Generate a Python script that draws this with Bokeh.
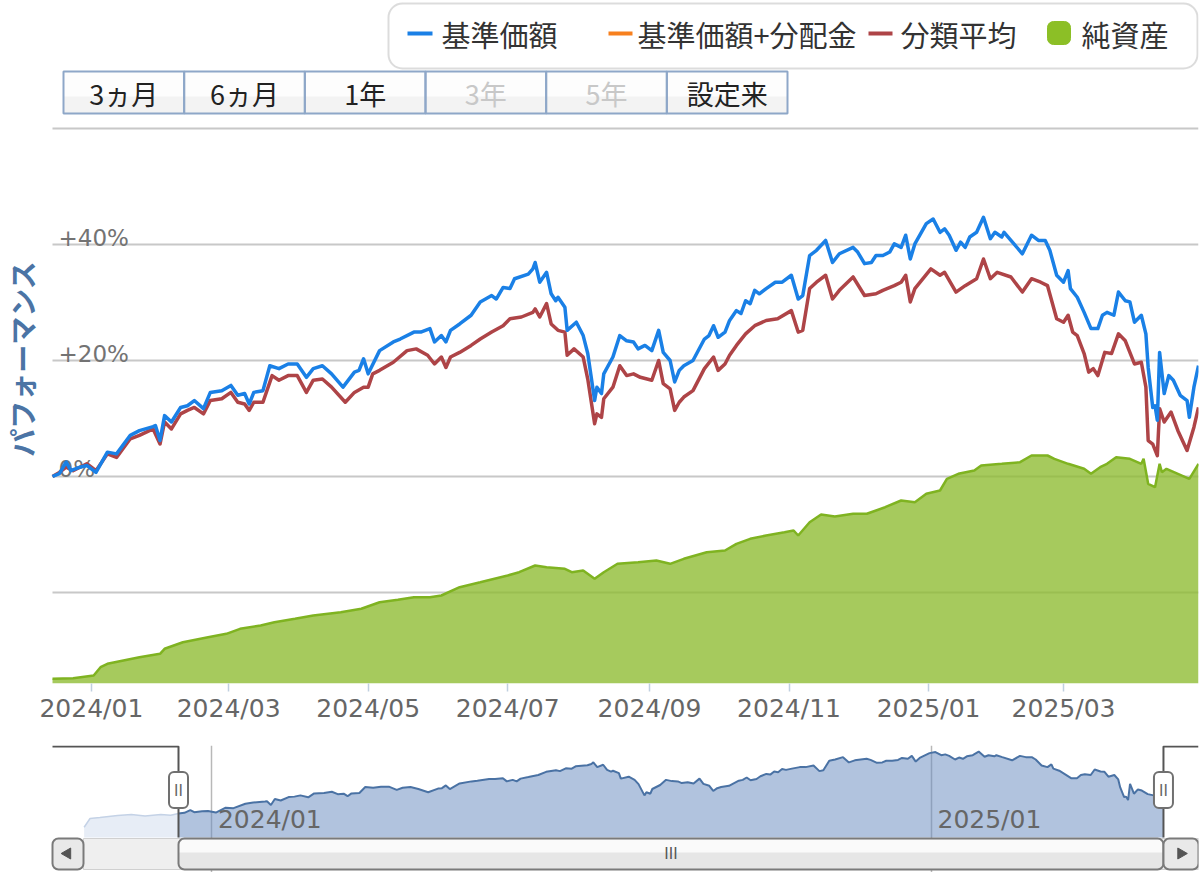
import numpy as np
import pandas as pd
from bokeh.plotting import figure
from bokeh.layouts import column
from bokeh.models import (Range1d, DatetimeAxis, FixedTicker, DatetimeTickFormatter,
                          Grid, BoxAnnotation, Rect, Quad)
from bokeh.core.properties import value
from bokeh.embed import file_html
from bokeh.resources import INLINE

# ---------------- data ----------------
START = "2023-12-15"   # first day of the displayed window (設定来 selection)
END = "2025-04-29"     # last day of the displayed window
BASE = pd.Timestamp(START)

# 基準価額 performance (%), days counted from START
blue_day = [0, 3, 6, 8, 12, 15, 19, 24, 28, 34,
            38, 44, 45, 47, 49, 52, 56, 59, 62, 66,
            69, 74, 78, 81, 84, 86, 88, 92, 95, 99,
            103, 107, 111, 114, 118, 122, 127, 132, 134, 136,
            138, 143, 149, 152, 158, 161, 165, 167, 170, 172,
            174, 178, 183, 187, 192, 194, 197, 200, 202, 208,
            210, 211, 213, 216, 218, 220, 221, 224, 225, 229,
            232, 234, 237, 238, 240, 241, 245, 248, 251, 254,
            256, 259, 262, 265, 267, 270, 272, 274, 276, 280,
            285, 287, 289, 291, 294, 296, 299, 301, 303, 305,
            307, 309, 312, 316, 319, 323, 326, 328, 331, 334,
            338, 341, 344, 350, 352, 355, 358, 360, 363, 366,
            368, 371, 373, 375, 377, 382, 385, 388, 390, 392,
            395, 397, 399, 401, 404, 407, 410, 412, 415, 416,
            419, 424, 428, 431, 434, 436, 439, 442, 444, 445,
            448, 451, 454, 457, 459, 461, 464, 466, 469, 471,
            473, 476, 478, 479, 481, 482, 483, 484, 486, 488,
            490, 493, 496, 497, 499, 501]
blue_pct = [0.0, 0.5, 2.5, 1.0, 1.6, 1.9, 0.7, 4.2, 3.9, 7.1,
            7.9, 8.6, 8.8, 6.2, 10.5, 9.4, 11.9, 12.2, 13.1, 11.7,
            14.5, 14.8, 15.7, 14.0, 14.3, 12.5, 14.5, 14.8, 19.1, 18.6,
            19.4, 19.4, 17.1, 18.6, 19.1, 17.7, 15.4, 18.0, 18.3, 20.3,
            17.7, 21.7, 23.2, 23.7, 24.9, 24.9, 25.5, 23.2, 24.3, 23.2,
            25.2, 26.3, 27.8, 30.1, 31.2, 30.6, 32.6, 32.4, 34.1, 34.9,
            35.8, 36.9, 33.5, 35.2, 31.5, 30.3, 30.9, 29.2, 25.2, 26.6,
            24.3, 21.2, 13.1, 15.4, 14.3, 17.7, 20.6, 24.3, 23.4, 23.2,
            22.0, 22.6, 21.7, 25.2, 21.4, 20.0, 16.3, 18.3, 19.1, 20.0,
            23.7, 24.3, 26.0, 24.0, 24.9, 26.9, 28.6, 28.1, 30.3, 29.8,
            32.1, 31.5, 32.4, 33.5, 33.5, 34.7, 30.6, 31.2, 38.1, 39.0,
            40.7, 36.9, 38.4, 39.5, 38.7, 36.7, 36.9, 38.1, 38.1, 38.7,
            40.1, 39.5, 41.6, 37.5, 40.1, 43.6, 44.4, 42.1, 42.7, 41.6,
            39.0, 40.4, 39.5, 41.3, 42.1, 44.7, 41.0, 42.1, 41.3, 42.1,
            40.7, 38.4, 41.6, 40.7, 40.7, 39.0, 34.7, 33.5, 35.5, 32.4,
            30.9, 28.3, 25.5, 25.5, 27.8, 28.3, 27.8, 31.8, 30.3, 30.1,
            26.6, 27.8, 24.6, 18.8, 11.9, 12.2, 9.7, 21.4, 14.3, 17.4,
            16.6, 14.0, 13.1, 10.2, 15.4, 19.1]

# 分類平均 performance (%)
red_day = [0, 3, 6, 9, 15, 19, 24, 28, 34, 38,
           44, 47, 49, 52, 56, 59, 62, 66, 69, 74,
           78, 81, 84, 86, 88, 92, 96, 99, 103, 107,
           111, 114, 118, 122, 128, 132, 136, 138, 140, 143,
           149, 155, 159, 164, 167, 170, 172, 174, 178, 183,
           187, 192, 197, 200, 205, 210, 211, 213, 216, 218,
           221, 224, 225, 228, 232, 234, 237, 238, 240, 241,
           245, 248, 251, 254, 257, 262, 265, 267, 270, 272,
           274, 276, 280, 285, 289, 291, 294, 296, 299, 303,
           307, 312, 317, 323, 326, 328, 331, 334, 338, 341,
           344, 350, 355, 360, 363, 368, 371, 373, 375, 377,
           384, 388, 390, 395, 399, 404, 407, 410, 413, 419,
           424, 428, 432, 435, 439, 442, 444, 446, 448, 451,
           453, 455, 457, 460, 463, 466, 469, 473, 476, 478,
           479, 481, 483, 484, 486, 489, 492, 496, 499, 501]
red_pct = [0.0, 0.7, 1.6, 1.0, 2.2, 1.0, 3.9, 3.3, 6.5, 7.1,
           8.2, 5.6, 9.4, 8.2, 10.8, 11.4, 11.9, 10.8, 13.1, 13.4,
           14.5, 12.8, 12.5, 11.4, 12.8, 12.8, 17.4, 16.6, 17.4, 17.4,
           14.5, 16.6, 16.8, 15.4, 12.8, 14.5, 15.4, 15.4, 17.7, 18.3,
           19.7, 21.7, 22.0, 20.9, 19.4, 20.6, 18.8, 20.6, 21.4, 22.6,
           23.7, 24.9, 26.0, 27.2, 27.5, 28.3, 28.9, 27.5, 29.8, 26.3,
           25.2, 24.9, 20.9, 22.0, 20.6, 16.8, 9.1, 10.8, 10.2, 13.4,
           15.4, 19.1, 17.4, 17.7, 17.1, 16.6, 20.0, 16.0, 15.1, 11.4,
           12.8, 13.7, 14.8, 18.6, 20.6, 18.3, 19.4, 20.9, 22.6, 24.6,
           26.0, 26.9, 27.2, 28.6, 24.9, 25.2, 32.4, 33.5, 34.7, 30.6,
           32.1, 34.4, 31.2, 31.5, 32.1, 32.9, 33.5, 34.7, 30.1, 32.4,
           35.8, 34.7, 35.2, 31.8, 32.9, 34.1, 37.5, 34.1, 35.2, 34.4,
           31.8, 34.1, 33.5, 32.9, 27.2, 26.6, 27.8, 24.9, 24.3, 21.2,
           18.0, 18.6, 17.4, 21.4, 21.2, 24.6, 23.4, 19.4, 19.7, 15.4,
           6.2, 5.6, 3.6, 11.7, 9.4, 11.1, 7.9, 4.5, 8.5, 11.9]

# 純資産 (億円, secondary axis)
asset_day = [0, 9, 18, 21, 24, 31, 38, 47, 49, 57,
             68, 76, 82, 91, 97, 106, 114, 126, 135, 139,
             143, 151, 158, 165, 170, 178, 187, 199, 204, 211,
             216, 224, 227, 232, 237, 241, 247, 256, 264, 270,
             276, 286, 294, 299, 305, 312, 320, 324, 326, 331,
             336, 342, 350, 356, 364, 371, 377, 382, 388, 391,
             396, 403, 406, 415, 423, 428, 435, 438, 444, 451,
             454, 458, 461, 465, 471, 476, 477, 479, 482, 484,
             485, 487, 492, 497, 501]
asset_oku = [47, 53, 80, 163, 197, 230, 263, 297, 347, 413,
             463, 497, 547, 580, 613, 647, 680, 713, 747, 780,
             813, 837, 863, 863, 880, 963, 1013, 1080, 1113, 1180,
             1163, 1147, 1113, 1130, 1047, 1113, 1197, 1213, 1230, 1197,
             1247, 1313, 1330, 1397, 1447, 1480, 1513, 1530, 1480, 1613,
             1690, 1670, 1697, 1697, 1763, 1830, 1813, 1897, 1930, 2047,
             2097, 2130, 2180, 2197, 2213, 2280, 2280, 2247, 2197, 2147,
             2097, 2163, 2197, 2263, 2247, 2197, 2247, 1997, 1963, 2197,
             2113, 2147, 2097, 2047, 2197]

# navigator: fund history before the selected window (%, vs START)
nav_pre_day = [-48, -45, -40, -31, -24, -17, -9, -4]
nav_pre_pct = [-9.9, -3.6, -2.9, -1.4, -0.7, -1.8, -0.7, -1.2]

legend_labels = ["基準価額", "基準価額+分配金", "分類平均", "純資産"]
button_labels = ["3ヵ月", "6ヵ月", "1年", "3年", "5年", "設定来"]
button_enabled = [True, True, True, False, False, True]
y_grid_ticks = [-20, 0, 20, 40, 60]
y_label_ticks = [0, 20, 40]
y_label_text = ["0%", "+20%", "+40%"]
y_title = "パフォーマンス"
x_tick_dates = ["2024-01-01", "2024-03-01", "2024-05-01", "2024-07-01",
                "2024-09-01", "2024-11-01", "2025-01-01", "2025-03-01"]
nav_tick_dates = ["2024-01-01", "2025-01-01"]

# ---------------- style / geometry ----------------
BLUE = "#1a80e6"
ORANGE = "#f7801e"
RED = "#ae4447"
GREEN = "#8cbf26"
JP = value("Noto Sans CJK JP")
LAT = value("DejaVu Sans")

RECT_BR = {"border_radius": 5} if "border_radius" in Rect.properties() else {}
QUAD_BR = {"border_radius": 6} if "border_radius" in Quad.properties() else {}
BOX_BR = {"border_radius": 14} if "border_radius" in BoxAnnotation.properties() else {}


def to_dates(days):
    return (BASE + pd.to_timedelta(np.asarray(days, dtype=float), unit="D")).to_numpy()


def ms(s):
    return pd.Timestamp(s).value / 1e6


def dt(*ts):
    return np.array([pd.Timestamp(t).to_datetime64() for t in ts], dtype="datetime64[ms]")


T_START = pd.Timestamp(START)
T_END = pd.Timestamp(END)
sel_days = (T_END - T_START).days

W = 1200
PL, FR = 52, 1198            # plot-area left / right in page px
MAIN_PX_PER_DAY = (FR - PL) / sel_days
MAIN_X0 = T_START - pd.Timedelta(days=PL / MAIN_PX_PER_DAY)   # page x = 0


def bare(fig):
    fig.outline_line_color = None
    fig.background_fill_color = "white"
    fig.border_fill_color = "white"
    fig.grid.visible = False
    return fig


# ---------------- header: legend + range buttons ----------------
head = bare(figure(width=W, height=124, x_range=Range1d(0, FR), y_range=Range1d(124, 0),
                   x_axis_location=None, y_axis_location=None, toolbar_location=None,
                   output_backend="svg", min_border_left=0, min_border_right=W - FR,
                   min_border_top=0, min_border_bottom=0))
head.add_layout(BoxAnnotation(left=388, right=1197, top=3, bottom=68, fill_color="white",
                              fill_alpha=1, line_color="#8c8c8c", line_width=2, level="underlay",
                              **BOX_BR))
head.segment(x0=[407, 608, 868], y0=[33, 33, 33], x1=[432, 632, 892], y1=[33, 33, 33],
             line_color=[BLUE, ORANGE, RED], line_width=4)
head.quad(left=[1047], right=[1070], top=[21], bottom=[44], fill_color=GREEN,
          line_color=GREEN, **QUAD_BR)
head.text(x=[441, 637, 900, 1081], y=[33, 33, 33, 33], text=legend_labels,
          text_font=JP, text_font_size="29px", text_color="#333333", text_baseline="middle")

n = len(button_labels)
bw = (787 - 63) / n
b_left = [63 + i * bw for i in range(n)]
b_right = [l + bw for l in b_left]
b_mid = [l + bw / 2 for l in b_left]
head.quad(left=b_left, right=b_right, top=[71] * n, bottom=[113] * n,
          fill_color="#fdfdfd", line_color=None)
head.quad(left=b_left, right=b_right, top=[96] * n, bottom=[113] * n,
          fill_color="#f3f3f3", line_color=None)
head.quad(left=b_left, right=b_right, top=[71] * n, bottom=[113] * n,
          fill_color=None, line_color="#8ea7c8", line_width=2)
head.text(x=b_mid, y=[93] * n, text=button_labels, text_font=JP, text_font_size="27px",
          text_color=["#222222" if e else "#c8c8c8" for e in button_enabled],
          text_align="center", text_baseline="middle")

# ---------------- main chart ----------------
p = bare(figure(width=W, height=621, x_range=Range1d(MAIN_X0, T_END),
                y_range=Range1d(-35.69, 60.69), x_axis_location=None, y_axis_location=None,
                toolbar_location=None, output_backend="svg",
                min_border_left=0, min_border_right=W - FR, min_border_top=0,
                min_border_bottom=62))
p.extra_y_ranges = {"assets": Range1d(0, 5590)}

# horizontal grid lines spanning the plotted period
ng = len(y_grid_ticks)
p.segment(x0=dt(*([T_START] * ng)), x1=dt(*([T_END] * ng)), y0=y_grid_ticks, y1=y_grid_ticks,
          line_color="#c8c8c8", line_width=2)

adates = to_dates(asset_day)
p.varea(x=adates, y1=np.zeros(len(asset_oku)), y2=asset_oku, y_range_name="assets",
        fill_color="#8dbb2f", fill_alpha=0.78)
p.line(adates, asset_oku, y_range_name="assets", line_color="#7fb321", line_width=2.5)

p.text(x=dt(*([T_START] * len(y_label_ticks))), y=y_label_ticks,
       text=y_label_text, text_font=LAT, text_font_size="23px",
       text_color="#737373", text_baseline="alphabetic", x_offset=6, y_offset=-7)

# y-axis title, 31 px left of the plot area, centred on +20.3 %
p.text(x=dt(T_START), y=[20.3], text=[y_title], angle=np.pi / 2, x_offset=-31,
       text_align="center", text_baseline="middle", text_font=JP,
       text_font_size="28px", text_font_style="bold", text_color="#4b74a5")

p.line(to_dates(red_day), red_pct, line_color=RED, line_width=3.5, line_join="round")
p.line(to_dates(blue_day), blue_pct, line_color=BLUE, line_width=3.5, line_join="round")

xax = DatetimeAxis(ticker=FixedTicker(ticks=[ms(d) for d in x_tick_dates]),
                   formatter=DatetimeTickFormatter(days="%Y/%m", months="%Y/%m", years="%Y/%m"))
xax.axis_line_color = None
xax.major_tick_line_color = "#c0d0e0"
xax.major_tick_line_width = 1.5
xax.major_tick_out = 8
xax.major_tick_in = 0
xax.minor_tick_line_color = None
xax.major_label_standoff = 2
xax.major_label_text_font = "DejaVu Sans"
xax.major_label_text_font_size = "25px"
xax.major_label_text_color = "#666666"
p.add_layout(xax, "below")

# ---------------- navigator + scrollbar ----------------
NAV_PX_PER_DAY = 1.966
NAV_SEL_LEFT_PX = 178
NAV_X0 = BASE - pd.Timedelta(days=NAV_SEL_LEFT_PX / NAV_PX_PER_DAY)            # page x = 0
NAV_L = BASE - pd.Timedelta(days=(NAV_SEL_LEFT_PX - PL) / NAV_PX_PER_DAY)      # plot-area left
NAV_X1 = BASE + pd.Timedelta(days=(FR - NAV_SEL_LEFT_PX) / NAV_PX_PER_DAY)     # plot-area right
NAV_FLOOR = -17.3

nav = bare(figure(width=W, height=127, x_range=Range1d(NAV_X0, NAV_X1),
                  y_range=Range1d(-42.56, 49.1), x_axis_location=None, y_axis_location=None,
                  toolbar_location=None, output_backend="svg",
                  min_border_left=0, min_border_right=W - FR, min_border_top=0,
                  min_border_bottom=0))
nav.extra_x_ranges = {"px": Range1d(0, FR)}
nav.extra_y_ranges = {"px": Range1d(872, 745)}

nav.add_layout(Grid(dimension=0, ticker=FixedTicker(ticks=[ms(d) for d in nav_tick_dates]),
                    grid_line_color="#b8b8b8", grid_line_width=1.5))

nav_day = np.array(nav_pre_day + blue_day, dtype=float)
nav_pct = np.array(nav_pre_pct + blue_pct, dtype=float)
pre = nav_day <= 0
sel = (nav_day >= 0) & (nav_day <= sel_days)
nd_pre = to_dates(nav_day[pre])
nd_sel = to_dates(nav_day[sel])
nav.varea(x=nd_pre, y1=np.full(pre.sum(), NAV_FLOOR), y2=nav_pct[pre],
          fill_color="#c9d6ec", fill_alpha=0.45)
nav.line(nd_pre, nav_pct[pre], line_color="#c4d2e6", line_width=1.5)
nav.varea(x=nd_sel, y1=np.full(sel.sum(), NAV_FLOOR), y2=nav_pct[sel],
          fill_color="#6a8cc0", fill_alpha=0.52)
nav.line(nd_sel, nav_pct[sel], line_color="#4a72a4", line_width=2)

nav.text(x=dt(*nav_tick_dates), y=[819, 819], y_range_name="px",
         text=[pd.Timestamp(d).strftime("%Y/%m") for d in nav_tick_dates],
         text_font=LAT, text_font_size="25px", text_color="#666666",
         text_baseline="middle", x_offset=6)

# navigator outline
nav.line(x=dt(NAV_L, T_START, T_START), y=[746, 746, 837],
         y_range_name="px", line_color="#555555", line_width=2)
nav.line(x=dt(T_END, T_END, NAV_X1), y=[837, 746, 746],
         y_range_name="px", line_color="#555555", line_width=2)

# scrollbar
nav.quad(left=[83], right=[FR], top=[838], bottom=[869], x_range_name="px", y_range_name="px",
         fill_color="#efefef", line_color="#d0d0d0", line_width=1)
nav.quad(left=[PL], right=[83], top=[838], bottom=[869], x_range_name="px", y_range_name="px",
         fill_color="#e9e9e9", line_color="#7a7a7a", line_width=2, **QUAD_BR)
nav.quad(left=dt(T_START), right=dt(T_END), top=[838], bottom=[869], y_range_name="px",
         fill_color="#e6e6e6", line_color=None, **QUAD_BR)
nav.quad(left=dt(T_START), right=dt(T_END), top=[839], bottom=[852], y_range_name="px",
         fill_color="#fafafa", line_color=None)
nav.quad(left=dt(T_START), right=dt(T_END), top=[838], bottom=[869], y_range_name="px",
         fill_color=None, line_color="#7a7a7a", line_width=2, **QUAD_BR)
nav.quad(left=dt(T_END), right=dt(NAV_X1), top=[838], bottom=[869],
         y_range_name="px", fill_color="#e9e9e9", line_color="#7a7a7a", line_width=2, **QUAD_BR)
mid_thumb = T_START + (T_END - T_START) / 2
mid_right = T_END + (NAV_X1 - T_END) / 2
nav.text(x=dt(mid_thumb), y=[853], y_range_name="px", text=["III"],
         text_font=LAT, text_font_size="15px", text_color="#555555",
         text_align="center", text_baseline="middle")
nav.scatter(x=[67], y=[853], x_range_name="px", y_range_name="px", marker="triangle",
            angle=np.pi / 2, size=11, fill_color="#555555", line_color="#555555")
nav.scatter(x=dt(mid_right), y=[853], y_range_name="px",
            marker="triangle", angle=-np.pi / 2, size=11, fill_color="#555555",
            line_color="#555555")

# handles
hx = dt(T_START, T_END)
nav.rect(x=hx, y=[789.5, 789.5], width=19, height=36, width_units="screen",
         height_units="screen", y_range_name="px", fill_color="white",
         line_color="#707070", line_width=2, **RECT_BR)
nav.text(x=hx, y=[790, 790], y_range_name="px", text=["II", "II"],
         text_font=LAT, text_font_size="15px", text_color="#666666",
         text_align="center", text_baseline="middle")

layout = column(head, p, nav, spacing=0)
open("out.html", "w").write(file_html(layout, INLINE))
